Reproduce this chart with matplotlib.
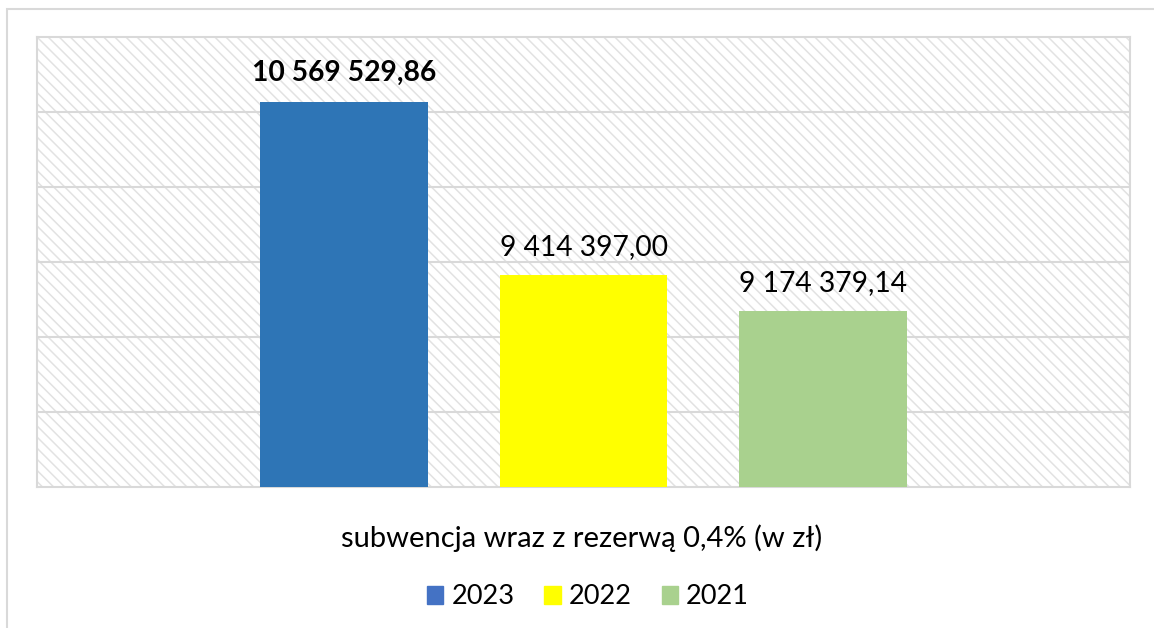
import matplotlib.pyplot as plt
from matplotlib.patches import Rectangle

plt.rcParams["font.family"] = ["Lato", "DejaVu Sans"]
plt.rcParams["hatch.color"] = "#e2e2e2"
plt.rcParams["hatch.linewidth"] = 1.1

years = ["2023", "2022", "2021"]
values = [10569529.86, 9414397.00, 9174379.14]
colors = ["#2e75b6", "#ffff00", "#a9d18e"]
legend_colors = ["#4472c4", "#ffff00", "#a9d18e"]
value_labels = ["10 569 529,86", "9 414 397,00", "9 174 379,14"]
axis_label = "subwencja wraz z rezerwą 0,4% (w zł)"

W, H = 1154, 628
fig = plt.figure(figsize=(W / 100, H / 100), dpi=100)

# outer chart frame
fig.patches.append(Rectangle((7 / W, -0.1), 1.2, 1.1 - 9 / H, transform=fig.transFigure,
                             fill=False, edgecolor="#d9d9d9", linewidth=1.5))

ax = fig.add_axes([37 / W, 1 - 487 / H, (1130 - 37) / W, (487 - 37) / H])

# hatched plot area background
ax.add_patch(Rectangle((0, 0), 1, 1, transform=ax.transAxes, facecolor="white",
                       edgecolor="#e2e2e2", hatch="\\\\\\", linewidth=0, zorder=0))

x = range(len(years))
bars = ax.bar(x, values, width=0.70, color=colors, zorder=3)

ax.set_xlim(1 - 2.284, 1 + 2.284)
ax.set_ylim(8000000, 11000000)
for y in range(8500000, 11000000, 500000):
    ax.axhline(y, color="#d9d9d9", linewidth=1.5, zorder=1)

for i, (b, lab) in enumerate(zip(bars, value_labels)):
    ax.annotate(lab, (b.get_x() + b.get_width() / 2, b.get_height()),
                xytext=(0, 11), textcoords="offset points", ha="center", va="bottom",
                fontsize=20.3, fontweight="bold" if i == 0 else "normal", color="black")

ax.set_xticks([])
ax.set_yticks([])
for s in ax.spines.values():
    s.set_color("#d9d9d9")
    s.set_linewidth(1.5)

fig.text(582 / W, 1 - 538 / H, axis_label, ha="center", va="center", fontsize=21)

handles = [Rectangle((0, 0), 1, 1, color=c) for c in legend_colors]
fig.legend(handles, years, loc="center", bbox_to_anchor=(588 / W, 1 - 597 / H), ncol=3,
           frameon=False, fontsize=19.5, handlelength=0.6, handleheight=0.6,
           handletextpad=0.3, columnspacing=1.1)

fig.savefig("out.png", dpi=100)
